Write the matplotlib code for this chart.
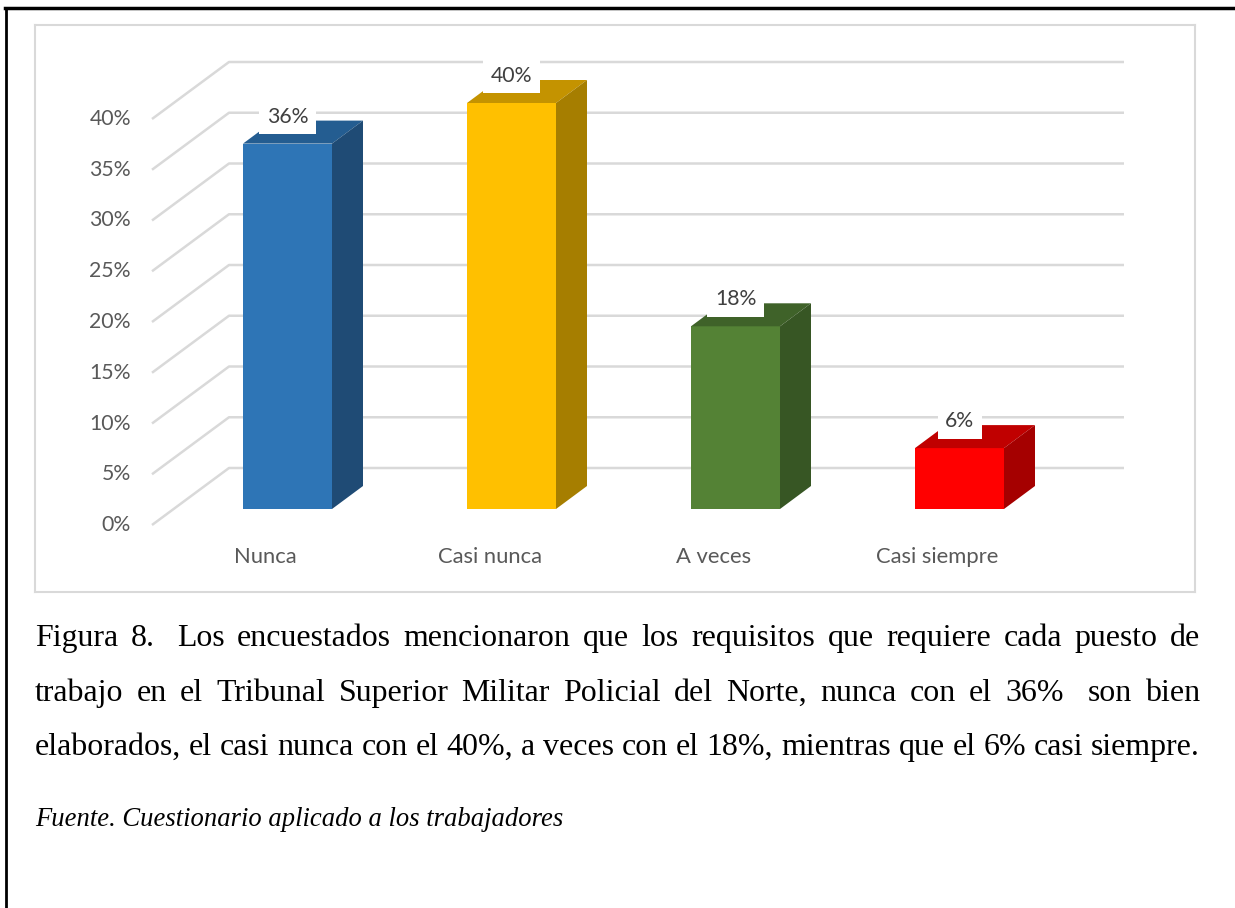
import matplotlib
matplotlib.use("Agg")
import numpy as np
import matplotlib.pyplot as plt
from matplotlib.patches import Polygon
from matplotlib.lines import Line2D

# Data
categories = ["Nunca", "Casi nunca", "A veces", "Casi siempre"]
values = [36, 40, 18, 6]
value_labels = ["36%", "40%", "18%", "6%"]
y_ticks = [0, 5, 10, 15, 20, 25, 30, 35, 40]

front_colors = ["#2E75B6", "#FFC000", "#548235", "#FF0000"]
top_colors = ["#245D91", "#C49300", "#3F6229", "#C00000"]
side_colors = ["#1F4B75", "#A67E00", "#375624", "#A50000"]

caption_lines = [
    ["Figura", "8.", "Los", "encuestados", "mencionaron", "que", "los", "requisitos",
     "que", "requiere", "cada", "puesto", "de"],
    ["trabajo", "en", "el", "Tribunal", "Superior", "Militar", "Policial", "del",
     "Norte,", "nunca", "con", "el", "36%", "son", "bien"],
    ["elaborados,", "el", "casi", "nunca", "con", "el", "40%,", "a", "veces", "con",
     "el", "18%,", "mientras", "que", "el", "6%", "casi", "siempre."],
]
# extra-wide gaps (double spaces in the original text)
wide_gaps = [{1}, {12}, set()]
source_text = "Fuente. Cuestionario aplicado a los trabajadores"

W, H = 1235, 908
fig = plt.figure(figsize=(W / 100, H / 100), dpi=100)
fig.patch.set_facecolor("white")

# chart box (axes spines act as the light grey frame)
box_l, box_r, box_t, box_b = 35, 1195, 25, 592
ax = fig.add_axes([box_l / W, (H - box_b) / H, (box_r - box_l) / W, (box_b - box_t) / H])

# pseudo 3D scale: pixels per category and per percent point
px_cat = 224.0
px_pct = 10.15
x0_px, y0_px = 265.5, 525.0
PX = 1 / px_cat
PY = 1 / px_pct
ax.set_xlim((box_l - x0_px) * PX, (box_r - x0_px) * PX)
ax.set_ylim((y0_px - box_b) * PY, (y0_px - box_t) * PY)
ax.set_xticks([])
ax.set_yticks([])
for sp in ax.spines.values():
    sp.set_color("#D9D9D9")
    sp.set_linewidth(1.5)

chart_font = "Lato"

# back wall gridlines with the slanted side wall
wall_dx, wall_dy = 77 * PX, 57 * PY
front_x = (152 - x0_px) * PX
end_x = (1124 - x0_px) * PX
for t in y_ticks:
    ax.plot([front_x, front_x + wall_dx, end_x], [t, t + wall_dy, t + wall_dy],
            color="#D9D9D9", lw=1.8, zorder=1, solid_capstyle="butt")
    ax.text((131 - x0_px) * PX, t, f"{t}%", ha="right", va="center",
            fontsize=15.3, color="#595959", family=chart_font)

# bars: front faces from ax.bar, top and side faces as polygons
off_x, off_y = 22 * PX, 16 * PY
bar_w = 89 * PX
bar_dx, bar_dy = 31 * PX, 23 * PY
xs = np.arange(len(categories)) + off_x
ax.bar(xs, values, width=bar_w, bottom=off_y, color=front_colors, linewidth=0, zorder=3)
for i, v in enumerate(values):
    xl, xr = xs[i] - bar_w / 2, xs[i] + bar_w / 2
    top = v + off_y
    ax.add_patch(Polygon([(xl, top), (xr, top), (xr + bar_dx, top + bar_dy),
                          (xl + bar_dx, top + bar_dy)], closed=True,
                         facecolor=top_colors[i], edgecolor="none", zorder=3))
    ax.add_patch(Polygon([(xr, off_y), (xr, top), (xr + bar_dx, top + bar_dy),
                          (xr + bar_dx, off_y + bar_dy)], closed=True,
                         facecolor=side_colors[i], edgecolor="none", zorder=3))
    ax.text(xs[i], top + 27 * PY, value_labels[i], ha="center", va="center",
            fontsize=15.3, color="#404040", family=chart_font, zorder=5,
            bbox=dict(boxstyle="square,pad=0.35", facecolor="white", edgecolor="none"))

for i, c in enumerate(categories):
    ax.text(i, -(557 - y0_px) * PY, c, ha="center", va="center",
            fontsize=15.8, color="#595959", family=chart_font)

# outer page frame (left and top edges)
fig.add_artist(Line2D([5 / W, 1.0], [1 - 7.5 / H, 1 - 7.5 / H], color="black", lw=2.5,
                      transform=fig.transFigure))
fig.add_artist(Line2D([6 / W, 6 / W], [0.0, 1 - 7.5 / H], color="black", lw=2,
                      transform=fig.transFigure))

# caption, justified between two margins; size fitted so the last line is natural
renderer = fig.canvas.get_renderer()
left_px, right_px = 35, 1200
probe = fig.text(0, 0, " ".join(caption_lines[2]), family="Liberation Serif", fontsize=20)
cap_size = 20 * (right_px - left_px) / probe.get_window_extent(renderer).width
probe.remove()
cap_font = dict(family="Liberation Serif", fontsize=cap_size, color="black")
baselines = [646, 701, 755]
for words, wide, base in zip(caption_lines, wide_gaps, baselines):
    texts = [fig.text(0, 1 - base / H, w, va="baseline", ha="left", **cap_font) for w in words]
    widths = [t.get_window_extent(renderer).width for t in texts]
    weights = [1.8 if k in wide else 1.0 for k in range(len(words) - 1)]
    gap = (right_px - left_px - sum(widths)) / sum(weights)
    x = left_px
    for k, t in enumerate(texts):
        t.set_x(x / W)
        if k < len(weights):
            x += widths[k] + gap * weights[k]

src = fig.text(left_px / W, 1 - 826 / H, source_text, va="baseline", ha="left",
               family="Liberation Serif", style="italic", fontsize=16, color="black")
src.set_fontsize(16 * (563 - left_px) / src.get_window_extent(renderer).width)

fig.savefig("out.png", dpi=100)
